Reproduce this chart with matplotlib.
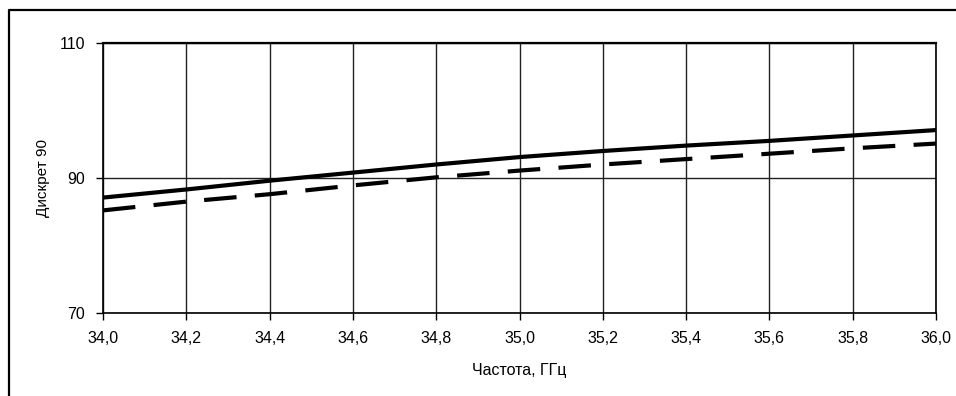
import matplotlib
matplotlib.use("Agg")
import matplotlib.pyplot as plt
from matplotlib.lines import Line2D
from matplotlib.ticker import FixedLocator, FuncFormatter

plt.rcParams['font.family'] = ['Liberation Sans', 'DejaVu Sans']

freq = [34.0, 34.2, 34.4, 34.6, 34.8, 35.0, 35.2, 35.4, 35.6, 35.8, 36.0]
solid_vals = [87.1, 88.3, 89.6, 90.8, 92.0, 93.1, 94.0, 94.8, 95.5, 96.3, 97.1]
dashed_vals = [85.2, 86.5, 87.6, 88.9, 90.1, 91.1, 92.0, 92.8, 93.6, 94.4, 95.1]
x_ticks = [34.0, 34.2, 34.4, 34.6, 34.8, 35.0, 35.2, 35.4, 35.6, 35.8, 36.0]
y_ticks = [70, 90, 110]
x_label = "Частота, ГГц"
y_label = "Дискрет 90"

W, H = 956, 396
fig = plt.figure(figsize=(W / 100, H / 100), dpi=100)
ax = fig.add_axes([103 / W, (H - 313) / H, (936 - 103) / W, (313 - 43) / H])

ax.plot(freq, solid_vals, color='black', lw=3.0, solid_capstyle='butt', zorder=3)
ax.plot(freq, dashed_vals, color='black', lw=3.0, dashes=(7.8, 4.4), dash_capstyle='butt', zorder=3)

ax.set_xlim(34.0, 36.0)
ax.set_ylim(70, 110)
ax.xaxis.set_major_locator(FixedLocator(x_ticks))
ax.yaxis.set_major_locator(FixedLocator(y_ticks))
ax.xaxis.set_major_formatter(FuncFormatter(lambda v, p: f"{v:.1f}".replace('.', ',')))
ax.yaxis.set_major_formatter(FuncFormatter(lambda v, p: f"{v:.0f}"))
ax.grid(True, color='#222222', lw=1.0, zorder=1)
for s in ax.spines.values():
    s.set_linewidth(1.2)
    s.set_color('black')
ax.spines['top'].set_linewidth(1.6)
ax.tick_params(direction='out', length=5, width=1.0, labelsize=11.5, colors='black')
ax.tick_params(axis='x', pad=8)
ax.tick_params(axis='y', pad=8)

fig.text(43 / W, 1 - 178 / H, y_label, rotation=90, ha='center', va='center', fontsize=11)
fig.text(519 / W, 1 - 370 / H, x_label, ha='center', va='center', fontsize=11.5)

frame = Line2D([9 / W, 9 / W, 1.01], [-0.01, 1 - 10 / H, 1 - 10 / H],
               transform=fig.transFigure, color='black', lw=1.6)
fig.add_artist(frame)

fig.savefig("out.png", dpi=100)
